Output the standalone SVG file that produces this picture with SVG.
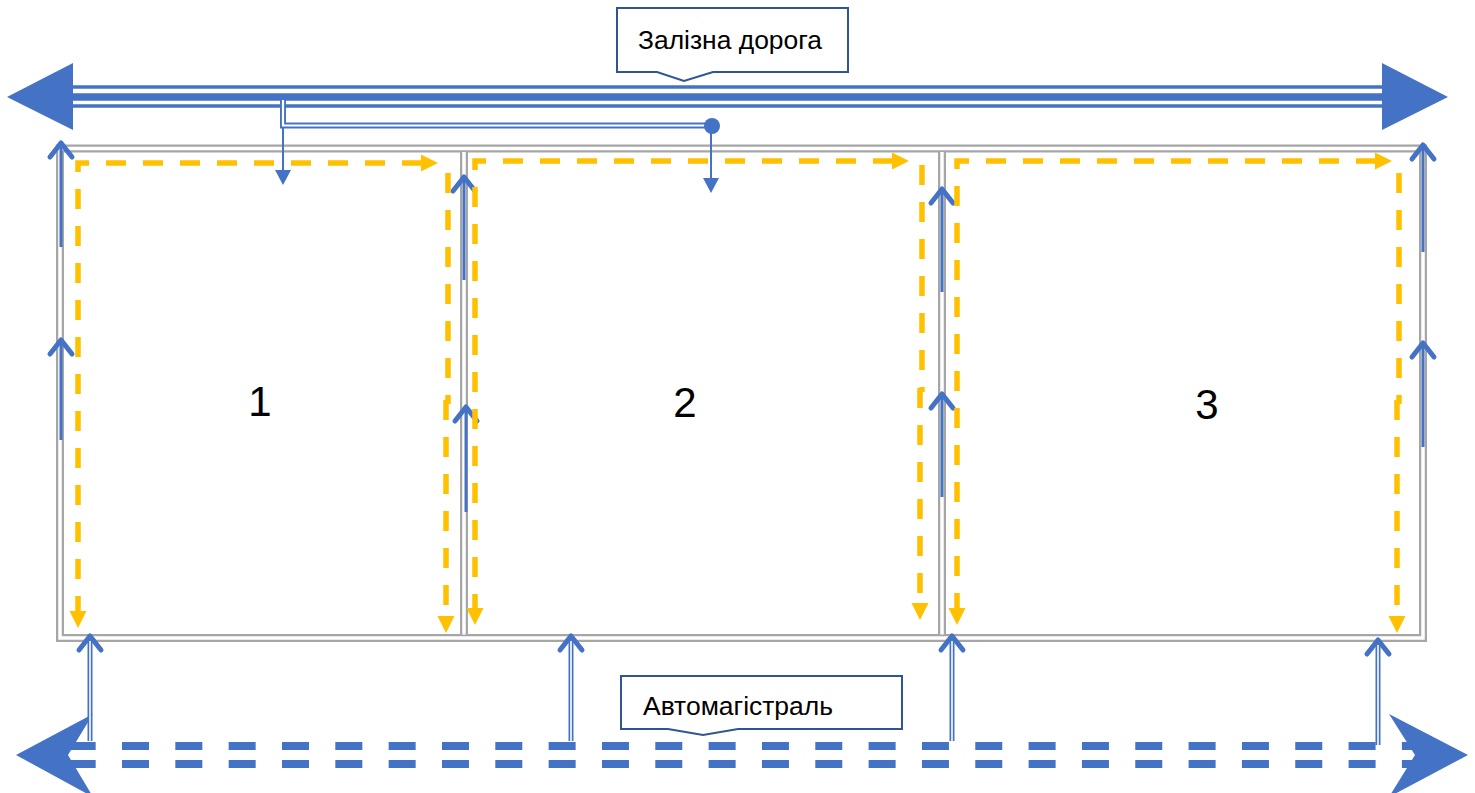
<svg xmlns="http://www.w3.org/2000/svg" width="1475" height="793" viewBox="0 0 1475 793">
<style>
.bl{stroke:#4472C4;fill:none}
.wall{stroke:#A6A6A6;stroke-width:8;fill:none}
.wallin{stroke:#FFFFFF;stroke-width:3.5;fill:none}
.route{stroke:#FFC000;stroke-width:5.5;fill:none;stroke-dasharray:20 17}
.wa{stroke:#4472C4;stroke-width:3;fill:none;marker-end:url(#chev)}
.wb{stroke:#4472C4;stroke-width:5;fill:none;marker-end:url(#chev)}
.wbin{stroke:#FFFFFF;stroke-width:1.6;fill:none}
.lbl{font-family:"Liberation Sans",Arial,sans-serif;fill:#000}
.call{fill:#FFFFFF;stroke:#2F5597;stroke-width:2}
</style>
<defs>
<marker id="chev" markerUnits="userSpaceOnUse" markerWidth="40" markerHeight="40" refX="0" refY="0" orient="auto" overflow="visible">
<path d="M-14,-11 L0,0 L-14,11" fill="none" stroke="#4472C4" stroke-width="5" stroke-linecap="round" stroke-linejoin="round"/>
</marker>
<marker id="ytri" markerUnits="userSpaceOnUse" markerWidth="40" markerHeight="40" refX="0" refY="0" orient="auto-start-reverse" overflow="visible">
<path d="M-1,-8.5 L16,0 L-1,8.5 Z" fill="#FFC000"/>
</marker>
<marker id="btri" markerUnits="userSpaceOnUse" markerWidth="40" markerHeight="40" refX="0" refY="0" orient="auto" overflow="visible">
<path d="M-1,-8 L14,0 L-1,8 Z" fill="#4472C4"/>
</marker>
</defs>

<g id="warehouse">
<rect class="wall" x="60" y="148.5" width="1363" height="489.5"/>
<line class="wall" x1="464" y1="148.5" x2="464" y2="638"/>
<line class="wall" x1="942" y1="148.5" x2="942" y2="638"/>
<rect class="wallin" x="60" y="148.5" width="1363" height="489.5"/>
<line class="wallin" x1="464" y1="152" x2="464" y2="634.5"/>
<line class="wallin" x1="942" y1="152" x2="942" y2="634.5"/>
</g>

<g id="section-1">
<text class="lbl" x="260" y="416" font-size="42" text-anchor="middle">1</text>
</g>
<g id="section-2">
<text class="lbl" x="685" y="417" font-size="42" text-anchor="middle">2</text>
</g>
<g id="section-3">
<text class="lbl" x="1207" y="419" font-size="42" text-anchor="middle">3</text>
</g>

<g id="railway">
<line x1="70" y1="87" x2="1385" y2="87" stroke="#4472C4" stroke-width="3.5"/>
<line x1="70" y1="97" x2="1385" y2="97" stroke="#4472C4" stroke-width="7.5"/>
<line x1="70" y1="106" x2="1385" y2="106" stroke="#4472C4" stroke-width="3.5"/>
<polygon points="7,97 73,63 73,130" fill="#4472C4"/>
<polygon points="1448,97 1382,63 1382,130" fill="#4472C4"/>
</g>

<g id="highway">
<line x1="68.67" y1="746" x2="1420" y2="746" stroke="#4472C4" stroke-width="8" stroke-dasharray="27 26.33"/>
<line x1="68.67" y1="764" x2="1420" y2="764" stroke="#4472C4" stroke-width="8" stroke-dasharray="27 26.33"/>
<polygon points="16,755 93,714 68,755 93,797" fill="#4472C4"/>
<polygon points="1468,755 1389,714 1415,755 1389,797" fill="#4472C4"/>
</g>

<g id="connectors">
<polyline points="283,100 283,125.5 705,125.5" fill="none" stroke="#4472C4" stroke-width="6"/>
<polyline points="283,100 283,125.5 705,125.5" fill="none" stroke="#FFFFFF" stroke-width="2.2"/>
<circle cx="712" cy="126" r="8" fill="#4472C4"/>
<line class="bl" x1="283" y1="128" x2="283" y2="171" stroke-width="2" marker-end="url(#btri)"/>
<line class="bl" x1="711" y1="128" x2="711" y2="179" stroke-width="2" marker-end="url(#btri)"/>

<line class="wa" x1="61" y1="440" x2="61" y2="340"/>
<line class="wa" x1="61" y1="247" x2="61" y2="143"/>
<line class="wa" x1="464" y1="280" x2="464" y2="177"/>
<line class="wa" x1="466" y1="512" x2="466" y2="407"/>
<line class="wa" x1="942" y1="292" x2="942" y2="189"/>
<line class="wa" x1="942" y1="497" x2="942" y2="394"/>
<line class="wa" x1="1423" y1="252" x2="1423" y2="145"/>
<line class="wa" x1="1423" y1="447" x2="1423" y2="343"/>

<line class="wb" x1="90" y1="741" x2="90" y2="636"/>
<line class="wbin" x1="90" y1="741" x2="90" y2="641"/>
<line class="wb" x1="571" y1="741" x2="571" y2="636"/>
<line class="wbin" x1="571" y1="741" x2="571" y2="641"/>
<line class="wb" x1="952" y1="741" x2="952" y2="636"/>
<line class="wbin" x1="952" y1="741" x2="952" y2="641"/>
<line class="wb" x1="1378" y1="745" x2="1378" y2="640"/>
<line class="wbin" x1="1378" y1="745" x2="1378" y2="645"/>

<polyline class="route" points="422,163 78,163 78,612" marker-start="url(#ytri)" marker-end="url(#ytri)"/>
<line class="route" x1="448" y1="173" x2="448" y2="404"/>
<line class="route" x1="446" y1="400" x2="446" y2="617" marker-end="url(#ytri)"/>

<polyline class="route" points="893,161 475,161 475,609" marker-start="url(#ytri)" marker-end="url(#ytri)"/>
<line class="route" x1="922" y1="165" x2="922" y2="392"/>
<line class="route" x1="920" y1="388" x2="920" y2="604" marker-end="url(#ytri)"/>

<polyline class="route" points="1376,161 957,161 957,609" marker-start="url(#ytri)" marker-end="url(#ytri)"/>
<line class="route" x1="1399" y1="173" x2="1399" y2="404"/>
<line class="route" x1="1397" y1="400" x2="1397" y2="617" marker-end="url(#ytri)"/>
</g>

<g id="label-railway">
<path class="call" d="M617,8 H848 V72 H713 L684,81 L657,72 H617 Z"/>
<text class="lbl" x="638" y="49" font-size="26" textLength="184" lengthAdjust="spacingAndGlyphs">Залізна дорога</text>
</g>

<g id="label-highway">
<path class="call" d="M621,676 H902 V729 H738 L703,735 L668,729 H621 Z"/>
<text class="lbl" x="643" y="715" font-size="25" textLength="190" lengthAdjust="spacingAndGlyphs">Автомагістраль</text>
</g>
</svg>
